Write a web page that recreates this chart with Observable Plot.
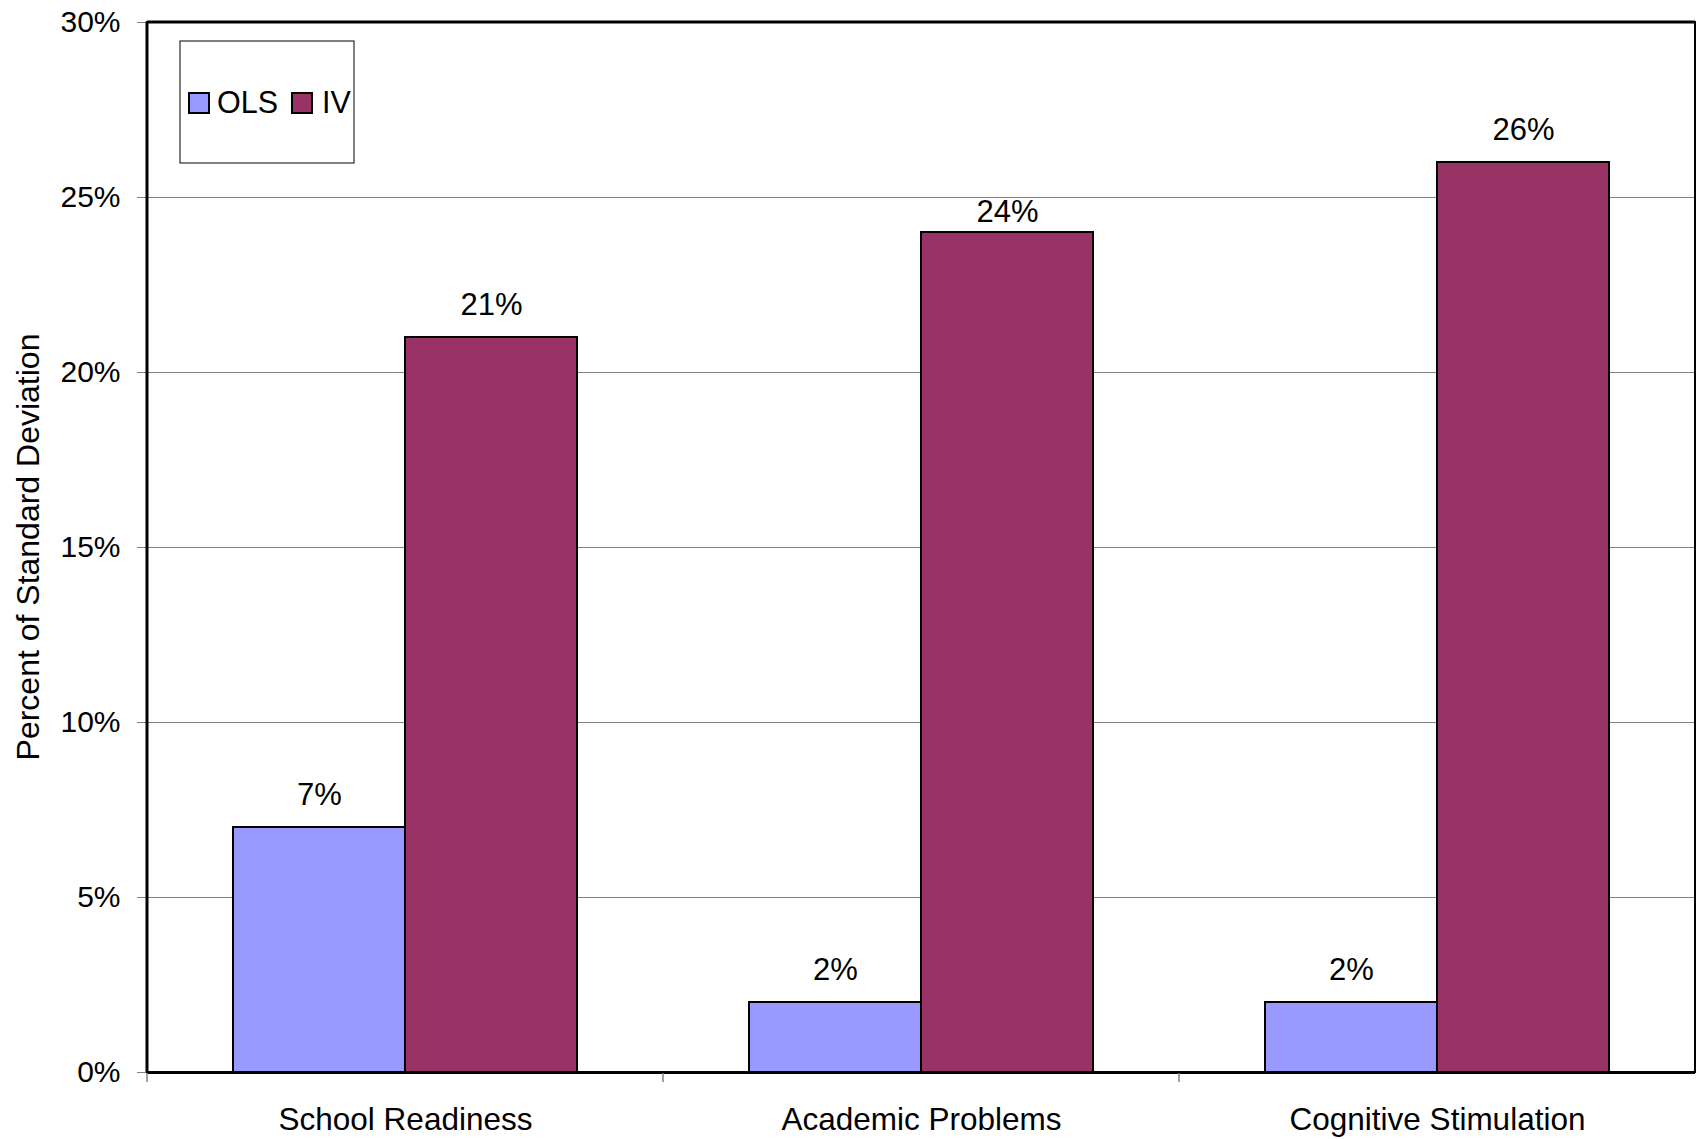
<!DOCTYPE html>
<html><head><meta charset="utf-8">
<script src="https://cdn.jsdelivr.net/npm/d3@7"></script>
<script src="https://cdn.jsdelivr.net/npm/@observablehq/plot@0.6"></script>
<style>body{margin:0;background:#fff} svg{font-family:"Liberation Sans",Arial,sans-serif}</style>
</head><body><div id="chart"></div>
<script>
const categories = ["School Readiness", "Academic Problems", "Cognitive Stimulation"];
const series = ["OLS", "IV"];
const olsValues = [7, 2, 2];
const ivValues = [21, 24, 26];
const yTicks = [0, 5, 10, 15, 20, 25, 30];
const colors = ["#9999FF", "#993366"];
const yLabel = "Percent of Standard Deviation";

const data = categories.flatMap((c, i) => [
  {category: c, series: "OLS", value: olsValues[i]},
  {category: c, series: "IV", value: ivValues[i]}
]);
// in the original, the label of the Academic Problems IV bar sits closer to its bar
const isLowLabel = d => d.category === categories[1] && d.series === series[1];

const W = 1696, H = 1139;
const FONT = '"Liberation Sans", Arial, sans-serif';
const chart = Plot.plot({
  width: W, height: H,
  marginLeft: 147, marginRight: 1, marginTop: 22, marginBottom: 67,
  style: {fontFamily: FONT, fontSize: "30px", color: "#000", background: "#fff", overflow: "visible"},
  fx: {domain: categories, padding: 0, label: null},
  x: {domain: series, paddingInner: 0, paddingOuter: 0.5, axis: null},
  y: {domain: [0, 30], label: null},
  color: {domain: series, range: colors},
  marks: [
    Plot.gridY(yTicks, {stroke: "#808080", strokeOpacity: 1, strokeWidth: 1}),
    Plot.barY(data, {fx: "category", x: "series", y: "value", fill: "series", stroke: "#000", strokeWidth: 2}),
    Plot.text(data.filter(d => !isLowLabel(d)), {fx: "category", x: "series", y: "value", text: d => d.value + "%", lineAnchor: "bottom", dy: -23, fontSize: 31, fill: "#000"}),
    Plot.text(data.filter(isLowLabel), {fx: "category", x: "series", y: "value", text: d => d.value + "%", lineAnchor: "bottom", dy: -11, fontSize: 31, fill: "#000"}),
    Plot.ruleY([0], {stroke: "#000", strokeWidth: 3}),
    Plot.axisY(yTicks, {tickFormat: d => d + "%", tickSize: 10, tickPadding: 17, stroke: "#808080", fill: "#000", fontSize: 30, label: null}),
    Plot.axisFx({anchor: "bottom", tickSize: 0, tickPadding: 35, fontSize: 31.5, label: null, fill: "#000"})
  ]
});
document.getElementById("chart").appendChild(chart);

const svg = d3.select(chart);
const fx = chart.scale("fx");
const y = chart.scale("y");
const x0 = 147, x1 = W - 1, yTop = y.apply(30), yBot = y.apply(0);

// category boundary ticks
const bounds = categories.map(c => fx.apply(c));
svg.append("g").selectAll("line").data(bounds).join("line")
  .attr("x1", d => d).attr("x2", d => d)
  .attr("y1", yBot).attr("y2", yBot + 10)
  .attr("stroke", "#808080").attr("stroke-width", 1.5);

// plot border
svg.append("rect").attr("x", x0).attr("y", yTop).attr("width", x1 - x0).attr("height", yBot - yTop)
  .attr("fill", "none").attr("stroke", "#000").attr("stroke-width", 2);
svg.append("line").attr("x1", x0).attr("x2", x0).attr("y1", yTop).attr("y2", yBot)
  .attr("stroke", "#000").attr("stroke-width", 3);
svg.append("line").attr("x1", x0).attr("x2", x1).attr("y1", yTop).attr("y2", yTop)
  .attr("stroke", "#000").attr("stroke-width", 3);

// y label
svg.append("text").attr("transform", `translate(39,${(yTop + yBot) / 2}) rotate(-90)`)
  .attr("text-anchor", "middle").attr("font-size", 32).attr("fill", "#000")
  .attr("font-family", FONT).text(yLabel);

// legend
const lg = svg.append("g").attr("font-family", FONT).attr("font-size", 30.5).attr("text-anchor", "start");
lg.append("rect").attr("x", 180).attr("y", 41).attr("width", 174).attr("height", 122)
  .attr("fill", "#fff").attr("stroke", "#000").attr("stroke-width", 1);
const items = [{s: series[0], sx: 189, tx: 217}, {s: series[1], sx: 292, tx: 322}];
items.forEach((it, i) => {
  lg.append("rect").attr("x", it.sx).attr("y", 93).attr("width", 20).attr("height", 20)
    .attr("fill", colors[i]).attr("stroke", "#000").attr("stroke-width", 2);
  lg.append("text").attr("x", it.tx).attr("y", 113).attr("fill", "#000")
    .attr("text-anchor", "start").text(it.s);
});
</script>
</body></html>
